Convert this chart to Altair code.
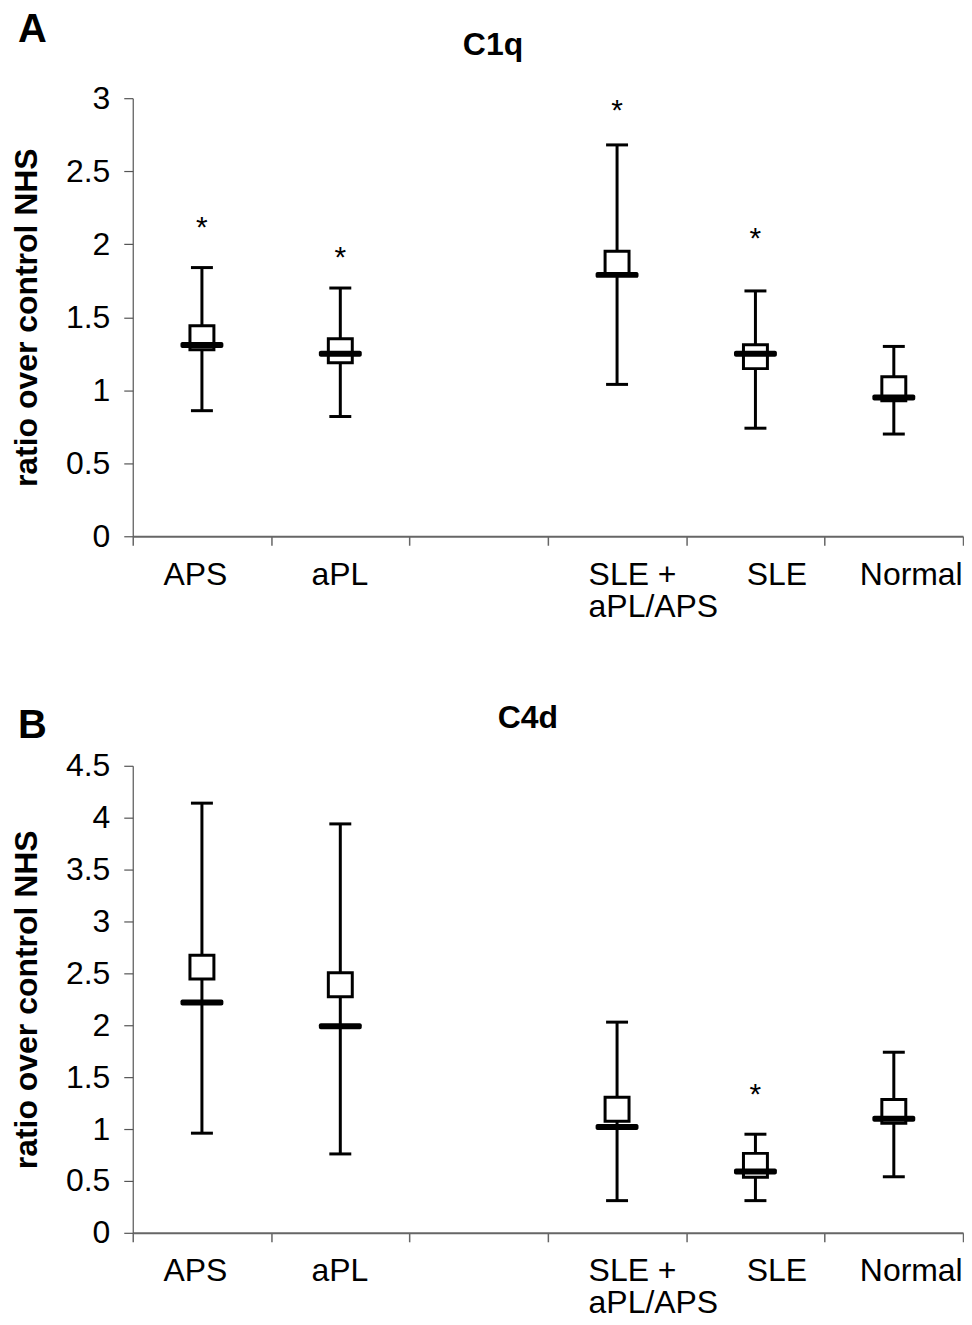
import altair as alt
import pandas as pd

# ---------------- data ----------------
slots = ["APS", "aPL", "gap", "SLE+", "SLE", "Normal"]   # x slots (one empty)
groups = ["APS", "aPL", "SLE+", "SLE", "Normal"]

# Panel A: C1q
c1q_max = [1.84, 1.70, 2.68, 1.68, 1.30]
c1q_min = [0.86, 0.82, 1.04, 0.74, 0.70]
c1q_mean = [1.36, 1.27, 1.87, 1.23, 1.01]
c1q_median = [1.31, 1.25, 1.79, 1.25, 0.95]
c1q_star = [2.17, 1.97, 2.975, 2.10, None]

# Panel B: C4d
c4d_max = [4.14, 3.94, 2.03, 0.95, 1.74]
c4d_min = [0.96, 0.76, 0.31, 0.31, 0.54]
c4d_mean = [2.56, 2.39, 1.19, 0.65, 1.17]
c4d_median = [2.22, 1.99, 1.02, 0.59, 1.10]
c4d_star = [None, None, None, 1.415, None]

c1q_ticks = [0, 0.5, 1, 1.5, 2, 2.5, 3]
c4d_ticks = [0, 0.5, 1, 1.5, 2, 2.5, 3, 3.5, 4, 4.5]

FONT = "Liberation Sans"
W = 832


def panel(letter, title, mx, mn, mean, med, star, ticks, h, letter_y, title_x, title_y):
    df = pd.DataFrame({"cat": groups, "max": mx, "min": mn, "mean": mean,
                       "median": med, "star": star})
    xaxis = alt.Axis(
        title=None, tickBand="extent", labelAngle=0, labelFont=FONT,
        labelFontSize=32, labelColor="black", labelPadding=14,
        labelBaseline="top", labelLineHeight=32, labelOverlap=False,
        tickSize=9, tickColor="#666666", tickWidth=1.5,
        domainColor="#666666", domainWidth=2, grid=False,
        labelExpr="datum.value == 'gap' ? '' : (datum.value == 'SLE+' ? ['SLE +', 'aPL/APS'] : datum.value)",
        labelAlign={"condition": {"test": "datum.value == 'SLE+'", "value": "left"}, "value": "center"},
        labelOffset={"condition": [
            {"test": "datum.value == 'SLE+'", "value": -29},
            {"test": "datum.value == 'APS'", "value": -7},
            {"test": "datum.value == 'aPL'", "value": -1},
            {"test": "datum.value == 'SLE'", "value": 21},
            {"test": "datum.value == 'Normal'", "value": 17}], "value": 0},
    )
    x = alt.X("cat:N", scale=alt.Scale(domain=slots, paddingInner=0, paddingOuter=0),
              axis=xaxis, title=None)
    yscale = alt.Scale(domain=[0, ticks[-1]], nice=False, zero=True)
    yaxis = alt.Axis(
        title="ratio over control NHS", titleFont=FONT, titleFontSize=32,
        titleFontWeight="bold", titleColor="black", titlePadding=22,
        values=ticks, format="~g", labelFont=FONT, labelFontSize=32,
        labelColor="black", labelPadding=14, tickSize=9, tickColor="#555555",
        tickWidth=1.2, domainColor="#555555", domainWidth=1.2, grid=False,
    )

    def Y(field):
        return alt.Y(field, scale=yscale, axis=yaxis)

    base = alt.Chart(df)
    whisk = base.mark_rule(color="black", strokeWidth=3).encode(
        x=x, y=Y("min:Q"), y2="max:Q")
    cap_hi = base.mark_tick(color="black", size=22, thickness=3, opacity=1).encode(
        x=x, y=Y("max:Q"))
    cap_lo = base.mark_tick(color="black", size=22, thickness=3, opacity=1).encode(
        x=x, y=Y("min:Q"))
    box = base.mark_point(shape="square", size=576, filled=True, fill="white",
                          stroke="black", strokeWidth=3, opacity=1).encode(
        x=x, y=Y("mean:Q"))
    medl = base.mark_tick(color="black", size=43, thickness=6, opacity=1,
                          cornerRadius=2).encode(x=x, y=Y("median:Q"))
    stars = base.transform_filter("isValid(datum.star)").mark_text(
        text="*", font=FONT, fontSize=30, dy=18, baseline="alphabetic",
        color="black").encode(x=x, y=Y("star:Q"))

    lab = alt.Chart(pd.DataFrame({"t": [letter]})).mark_text(
        font=FONT, fontSize=40, fontWeight="bold", align="left",
        baseline="alphabetic", color="black").encode(
        x=alt.value(-115), y=alt.value(letter_y), text="t:N")
    ttl = alt.Chart(pd.DataFrame({"t": [title]})).mark_text(
        font=FONT, fontSize=32, fontWeight="bold", align="center",
        baseline="alphabetic", color="black").encode(
        x=alt.value(title_x), y=alt.value(title_y), text="t:N")

    return alt.layer(whisk, cap_hi, cap_lo, box, medl, stars, lab, ttl).properties(
        width=W, height=h)


pa = panel("A", "C1q", c1q_max, c1q_min, c1q_mean, c1q_median, c1q_star,
           c1q_ticks, 439, -56, 361, -43)
pb = panel("B", "C4d", c4d_max, c4d_min, c4d_mean, c4d_median, c4d_star,
           c4d_ticks, 468, -28, 396, -38)

chart = alt.vconcat(pa, pb, spacing=230, bounds="flush").properties(
    padding={"left": 2, "top": 1, "right": 0, "bottom": 0},
    background="white",
).configure_view(strokeWidth=0, stroke="transparent")

chart.save("out.html", embed_options={"renderer": "svg", "actions": False})
